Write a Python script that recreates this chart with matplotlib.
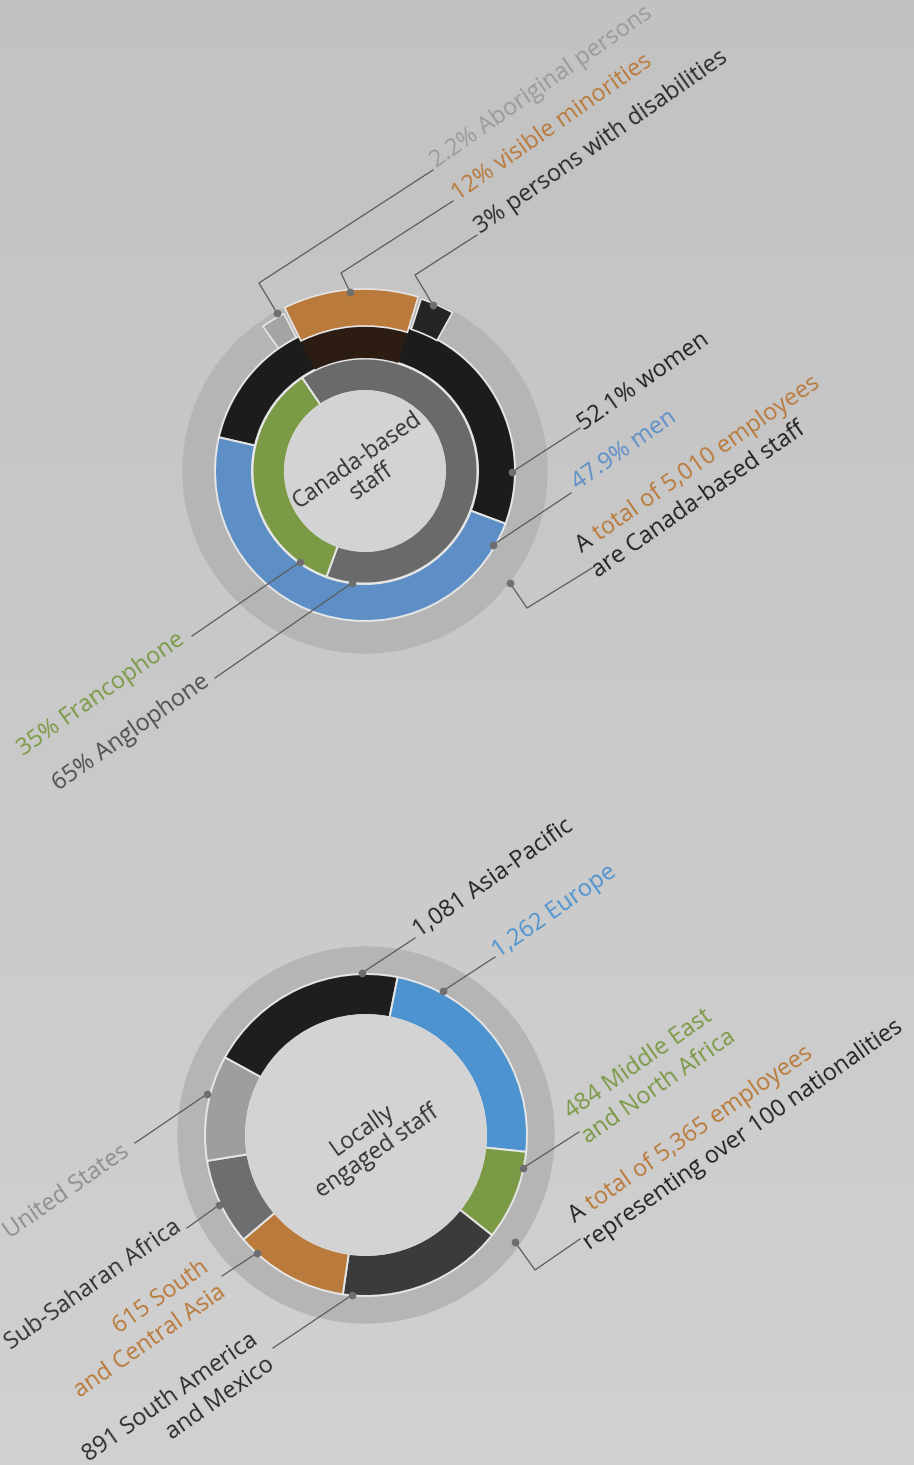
"""
Staff composition infographic: Canada-based and locally engaged staff donuts.
"""

import numpy as np
import matplotlib
matplotlib.use('Agg')
import matplotlib.pyplot as plt
from matplotlib.patches import Circle

W, H = 914, 1465
FONT = ['Open Sans', 'DejaVu Sans']
ROT = 35
FS = 17
LS = 30  # line step in px, perpendicular to the rotated baseline

# Canada-based staff (upper donut)
gender_labels = ['women', 'men']
gender_pct = [52.1, 47.9]
language_labels = ['Anglophone', 'Francophone']
language_pct = [65, 35]
equity_labels = ['Aboriginal persons', 'visible minorities', 'persons with disabilities']
equity_pct = [2.2, 12, 3]
canada_total = 5010

# Locally engaged staff (lower donut), clockwise from Asia-Pacific
region_labels = ['Asia-Pacific', 'Europe', 'Middle East\nand North Africa',
                 'South America\nand Mexico', 'South\nand Central Asia',
                 'Sub-Saharan Africa', 'United States']
region_staff = [1081, 1262, 484, 891, 615, 465, 567]
local_total = 5365
nationalities = 100

# colours
DARK = '#222222'
BLACK = '#1c1c1c'
BLUE = '#5d8fc6'
BLUE2 = '#4d93d0'
GREEN = '#7a9a45'
ORANGE = '#b97a3b'
RING = '#b5b5b5'
CENTRE = '#d3d3d3'
EDGE = '#e6e6e6'
LINE = '#5a5a5a'

fig = plt.figure(figsize=(W / 100, H / 100), dpi=100)
ax = fig.add_axes([0, 0, 1, 1])
ax.axis('off')

# page background (photographed paper, slightly darker at the top)
grad = np.linspace(0.76, 0.815, 200)[:, None]
ax.imshow(grad, extent=(0, W, 0, H), cmap='gray', vmin=0, vmax=1,
          aspect='auto', zorder=0)

ang = np.deg2rad(ROT)


def ring(vals, cx, cy, r, w, start, colors, lw=1.4, z=2):
    # start = clockwise angle from 12 o'clock where the first slice begins
    wedges, _ = ax.pie(vals, radius=r, center=(cx, H - cy), startangle=90 - start,
                       counterclock=False, colors=colors,
                       wedgeprops=dict(width=w, edgecolor=EDGE, linewidth=lw))
    for wd, c in zip(wedges, colors):
        wd.set_zorder(z)
        if c == 'none' or lw == 0:
            wd.set_edgecolor('none')
    return wedges


def leader(pts):
    xs = [p[0] for p in pts]
    ys = [H - p[1] for p in pts]
    ax.plot(xs, ys, color=LINE, lw=0.9, zorder=6)
    ax.plot(xs[0], ys[0], 'o', ms=4.5, color='#6e6e6e', zorder=7)


def label(x, y, s, color, ha='left', size=FS):
    # each line drawn on its own rotated baseline, stepped down-right
    for i, line in enumerate(s.split('\n')):
        lx = x + i * LS * np.sin(ang)
        ly = y + i * LS * np.cos(ang)
        ax.text(lx, H - ly, line, rotation=ROT, rotation_mode='anchor', ha=ha,
                va='baseline', fontsize=size, color=color, family=FONT, zorder=8)


def rich_label(x, y, parts, size=FS):
    # several coloured pieces on one rotated baseline
    renderer = fig.canvas.get_renderer()

    def width(s):
        t = ax.text(0, 0, s, fontsize=size, family=FONT)
        w = t.get_window_extent(renderer).width
        t.remove()
        return w

    prefix = ''
    for s, c in parts:
        off = width(prefix + '|') - width('|') if prefix else 0
        ax.text(x + off * np.cos(ang), H - y + off * np.sin(ang), s,
                rotation=ROT, rotation_mode='anchor', ha='left', va='baseline',
                fontsize=size, color=c, family=FONT, zorder=8)
        prefix += s


# ---------------- upper donut: Canada-based staff ----------------
cx, cy = 365, 471
ax.add_patch(Circle((cx, H - cy), 182, color=RING, zorder=1))
ring(gender_pct, cx, cy, 150, 37, -77, [BLACK, BLUE])
ring(language_pct, cx, cy, 112.5, 32.5, -34, ['#6a6a6a', GREEN])
ax.add_patch(Circle((cx, H - cy), 80, color=CENTRE, zorder=3))

gap = 0.3
equity_vals = [equity_pct[0], gap, equity_pct[1], gap, equity_pct[2]]
equity_vals.append(100 - sum(equity_vals))
# darker tint of the women ring under the visible-minorities arc
ring(equity_vals, cx, cy, 149, 36, -35.2,
     ['none', 'none', '#2c1c12', 'none', 'none', 'none'], lw=0, z=2.5)
ring(equity_vals, cx, cy, 182, 37, -35.2,
     ['none', 'none', ORANGE, 'none', 'none', 'none'], lw=1.2, z=4)
ring(equity_vals, cx, cy, 177, 27, -35.2,
     ['#a4a4a4', 'none', 'none', 'none', 'none', 'none'], lw=1.2, z=4)
ring(equity_vals, cx, cy, 181, 32, -35.2,
     ['none', 'none', 'none', 'none', '#252525', 'none'], lw=1.2, z=4)

ax.text(cx, H - cy, 'Canada-based\nstaff', rotation=ROT, rotation_mode='anchor',
        ha='center', va='center', multialignment='center', fontsize=16.5,
        color='#333333', family=FONT, linespacing=1.05, zorder=8)

leader([(277, 313), (259, 283), (433, 170)])
label(437, 168, f'{equity_pct[0]}% {equity_labels[0]}', '#9b9b9b')
leader([(350, 292), (341, 273), (453, 201)])
label(458, 201, f'{equity_pct[1]}% {equity_labels[1]}', ORANGE)
leader([(433, 305), (415, 275), (477, 235)])
label(481, 234, f'{equity_pct[2]}% {equity_labels[2]}', '#2b2b2b')

leader([(512, 472), (580, 428)])
label(584, 431, f'{gender_pct[0]}% {gender_labels[0]}', DARK)
leader([(493, 545), (571, 493)])
label(578, 490, f'{gender_pct[1]}% {gender_labels[1]}', BLUE)

leader([(510, 583), (527, 608), (592, 568)])
rich_label(582, 553, [('A ', DARK), (f'total of {canada_total:,} employees', ORANGE)])
label(598, 578, 'are Canada-based staff', DARK)

leader([(300, 562), (192, 636)])
label(186, 642, f'{language_pct[1]}% {language_labels[1]}', GREEN, ha='right')
leader([(352, 583), (215, 678)])
label(211, 684, f'{language_pct[0]}% {language_labels[0]}', '#505050', ha='right')

# ---------------- lower donut: locally engaged staff ----------------
cx, cy = 366, 1135
ax.add_patch(Circle((cx, H - cy), 188, color=RING, zorder=1))
ring(region_staff, cx, cy, 161, 41, -61.2,
     ['#1e1e1e', BLUE2, GREEN, '#3b3b3b', ORANGE, '#6e6e6e', '#9e9e9e'])
ax.add_patch(Circle((cx, H - cy), 120, color=CENTRE, zorder=3))

ax.text(cx + 4, H - cy - 6, 'Locally\nengaged staff', rotation=ROT,
        rotation_mode='anchor', ha='center', va='center',
        multialignment='center', fontsize=16.5, color='#333333', family=FONT,
        linespacing=1.05, zorder=8)

leader([(362, 973), (415, 938)])
label(419, 938, f'{region_staff[0]:,} {region_labels[0]}', DARK)
leader([(443, 991), (495, 957)])
label(499, 958, f'{region_staff[1]:,} {region_labels[1]}', BLUE2)
leader([(523, 1168), (579, 1132)])
label(571, 1119, f'{region_staff[2]:,} {region_labels[2]}', GREEN)

leader([(515, 1242), (535, 1270), (580, 1239)])
rich_label(575, 1223, [('A ', DARK), (f'total of {local_total:,} employees', ORANGE)])
label(590, 1250, f'representing over {nationalities} nationalities', DARK)

leader([(352, 1295), (273, 1348)])
label(259, 1343, f'{region_staff[3]:,} {region_labels[3]}', '#2b2b2b', ha='right')
leader([(257, 1253), (222, 1276)])
label(210, 1270, f'{region_staff[4]:,} {region_labels[4]}', ORANGE, ha='right')
leader([(219, 1205), (187, 1228)])
label(183, 1230, region_labels[5], '#333333', ha='right')
leader([(207, 1094), (135, 1143)])
label(131, 1154, region_labels[6], '#8e8e8e', ha='right')

ax.set_xlim(0, W)
ax.set_ylim(0, H)
ax.set_aspect('auto')

fig.savefig('out.png', dpi=100)
